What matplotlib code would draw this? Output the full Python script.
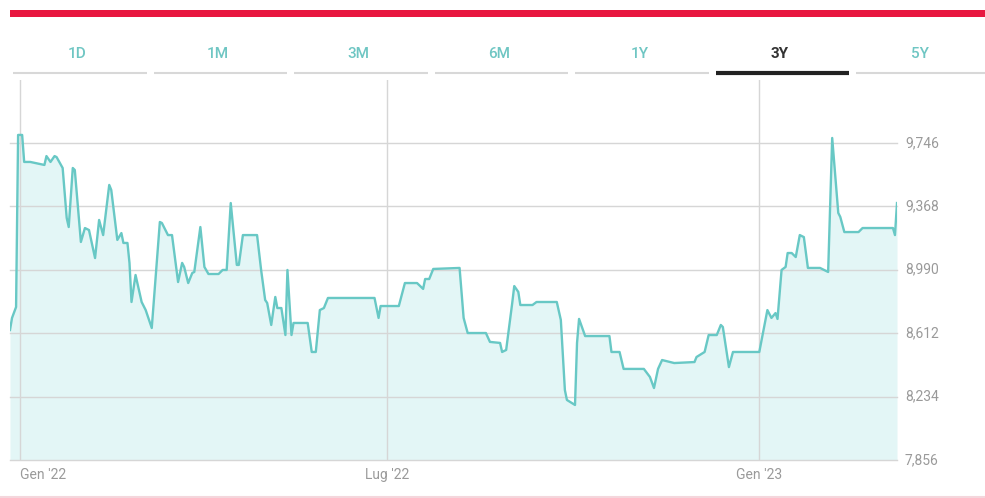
import matplotlib
matplotlib.use("Agg")
import matplotlib.pyplot as plt
import matplotlib.dates as mdates
import pandas as pd

plt.rcParams['font.family'] = ['Roboto', 'DejaVu Sans']

# price history (3Y view)
dates = [
  '2021-12-27', '2021-12-28', '2021-12-30', '2021-12-31',
  '2022-01-02', '2022-01-03', '2022-01-06', '2022-01-13', '2022-01-14', '2022-01-16', '2022-01-18',
  '2022-01-19', '2022-01-22', '2022-01-24', '2022-01-25', '2022-01-27', '2022-01-28', '2022-01-31',
  '2022-02-02', '2022-02-04', '2022-02-07', '2022-02-09', '2022-02-11', '2022-02-14', '2022-02-15',
  '2022-02-18', '2022-02-20', '2022-02-21', '2022-02-23', '2022-02-24', '2022-02-25', '2022-02-27',
  '2022-03-02', '2022-03-04', '2022-03-07', '2022-03-11', '2022-03-12', '2022-03-15', '2022-03-17',
  '2022-03-20', '2022-03-22', '2022-03-23', '2022-03-25', '2022-03-27', '2022-03-28', '2022-03-31',
  '2022-04-02', '2022-04-04', '2022-04-09', '2022-04-11', '2022-04-13', '2022-04-15', '2022-04-18',
  '2022-04-19', '2022-04-21', '2022-04-28', '2022-04-30',
  '2022-05-02', '2022-05-03', '2022-05-05', '2022-05-07', '2022-05-08', '2022-05-10', '2022-05-12',
  '2022-05-13', '2022-05-15', '2022-05-16', '2022-05-23', '2022-05-25', '2022-05-27', '2022-05-29',
  '2022-05-31',
  '2022-06-02', '2022-06-25', '2022-06-27', '2022-06-28',
  '2022-07-07', '2022-07-10', '2022-07-16', '2022-07-19', '2022-07-20', '2022-07-22', '2022-07-24',
  '2022-08-06', '2022-08-08', '2022-08-10', '2022-08-19', '2022-08-21', '2022-08-26', '2022-08-27',
  '2022-08-29',
  '2022-09-01', '2022-09-02', '2022-09-04', '2022-09-05', '2022-09-11', '2022-09-13', '2022-09-23',
  '2022-09-25', '2022-09-27', '2022-09-28',
  '2022-10-02', '2022-10-03', '2022-10-04', '2022-10-07', '2022-10-19', '2022-10-20', '2022-10-24',
  '2022-10-26',
  '2022-11-05', '2022-11-08', '2022-11-10', '2022-11-12', '2022-11-14', '2022-11-20', '2022-11-30',
  '2022-12-01', '2022-12-05', '2022-12-07', '2022-12-11', '2022-12-13', '2022-12-14', '2022-12-17',
  '2022-12-19',
  '2023-01-01', '2023-01-05', '2023-01-07', '2023-01-09', '2023-01-10', '2023-01-12', '2023-01-14',
  '2023-01-15', '2023-01-17', '2023-01-19', '2023-01-21', '2023-01-23', '2023-01-25', '2023-01-31',
  '2023-02-04', '2023-02-06', '2023-02-09', '2023-02-10', '2023-02-12', '2023-02-19', '2023-02-21',
  '2023-03-08', '2023-03-09', '2023-03-10',
]
prices = [
  8631, 8703, 8768, 9794,
  9794, 9633, 9633, 9615, 9668, 9633, 9668, 9662, 9597, 9299, 9245, 9597, 9585, 9156,
  9239, 9227, 9060, 9287, 9197, 9496, 9466, 9168, 9209, 9150, 9150, 9031, 8798, 8959,
  8798, 8750, 8643, 9275, 9269, 9197, 9197, 8917, 9031, 9007, 8911, 8971, 8977, 9245,
  9007, 8965, 8965, 8989, 8989, 9388, 9019, 9019, 9197, 9197, 8989,
  8810, 8792, 8661, 8828, 8762, 8762, 8601, 8989, 8601, 8673, 8673, 8500, 8500, 8750, 8762,
  8822, 8822, 8703, 8774,
  8774, 8911, 8911, 8876, 8935, 8935, 8995,
  9001, 8703, 8613, 8613, 8560, 8554, 8500, 8512,
  8792, 8893, 8858, 8780, 8780, 8798, 8798, 8691, 8273, 8214,
  8184, 8554, 8697, 8595, 8595, 8500, 8500, 8399,
  8399, 8351, 8285, 8399, 8452, 8434, 8440,
  8470, 8500, 8601, 8601, 8661, 8649, 8410, 8500,
  8500, 8750, 8703, 8732, 8697, 8989, 9007, 9090, 9090, 9066, 9197, 9185, 9001, 9001,
  8977, 9776, 9329, 9305, 9215, 9215, 9239,
  9239, 9197, 9388,
]

y_ticks = [7856, 8234, 8612, 8990, 9368, 9746]
x_ticks = ['2022-01-01', '2022-07-01', '2023-01-01']
x_tick_labels = ["Gen '22", "Lug '22", "Gen '23"]
tabs = ['1D', '1M', '3M', '6M', '1Y', '3Y', '5Y']
active_tab = '3Y'

LINE_COLOR = '#68c8c5'
FILL_COLOR = '#e3f6f6'
GRID_COLOR = '#d6d6d6'
TAB_COLOR = '#6fc6c3'
LABEL_COLOR = '#9a9a9a'

W, H = 985, 498
fig = plt.figure(figsize=(W / 100, H / 100), dpi=100)

# decoration layer in pixel coords
deco = fig.add_axes([0, 0, 1, 1])
deco.set_xlim(0, W)
deco.set_ylim(H, 0)
deco.axis('off')
deco.fill_between([10, 985], 10, 17, color='#e8173f', lw=0)
deco.plot([0, W], [496.5, 496.5], color='#f4d6dc', lw=1.5)

tab_w = 140.5
for i, name in enumerate(tabs):
  left = 10 + i * tab_w
  cx = left + tab_w / 2 - 3
  active = name == active_tab
  deco.text(cx, 54, name, ha='center', va='center', fontsize=11,
            color='#333333' if active else TAB_COLOR,
            fontweight='bold' if active else 'medium')
  if active:
    deco.plot([left + 3, left + tab_w - 4], [72.5, 72.5], color='#222222', lw=3, solid_capstyle='butt')
  else:
    deco.plot([left + 3, left + tab_w - 4], [72.5, 72.5], color='#d8d8d8', lw=1.5, solid_capstyle='butt')

# chart
x = pd.to_datetime(dates)
ax = fig.add_axes([10 / W, (H - 460) / H, 887 / W, 380 / H])
ax.set_xlim(x[0], x[-1])
ax.set_ylim(7856, 7856 + 380 * 5.962)

ax.fill_between(x, prices, 7856, color=FILL_COLOR, lw=0, zorder=1)
ax.plot(x, prices, color=LINE_COLOR, lw=1.7, zorder=3)

for v in y_ticks:
  ax.axhline(v, color=GRID_COLOR, lw=1, zorder=2, clip_on=False)
for d in pd.to_datetime(x_ticks):
  ax.axvline(d, color=GRID_COLOR, lw=1, zorder=2)

ax.set_yticks([])
ax.set_xticks([])
for s in ax.spines.values():
  s.set_visible(False)

for v in y_ticks:
  ax.text(1.009, v, f'{v:,}', transform=ax.get_yaxis_transform(), ha='left', va='center',
          fontsize=10, color=LABEL_COLOR)

for i, (d, lab) in enumerate(zip(pd.to_datetime(x_ticks), x_tick_labels)):
  ax.text(mdates.date2num(d), -0.04, lab, transform=ax.get_xaxis_transform(),
          ha='left' if i == 0 else 'center', va='center', fontsize=10, color=LABEL_COLOR)

fig.savefig('out.png', dpi=100)
